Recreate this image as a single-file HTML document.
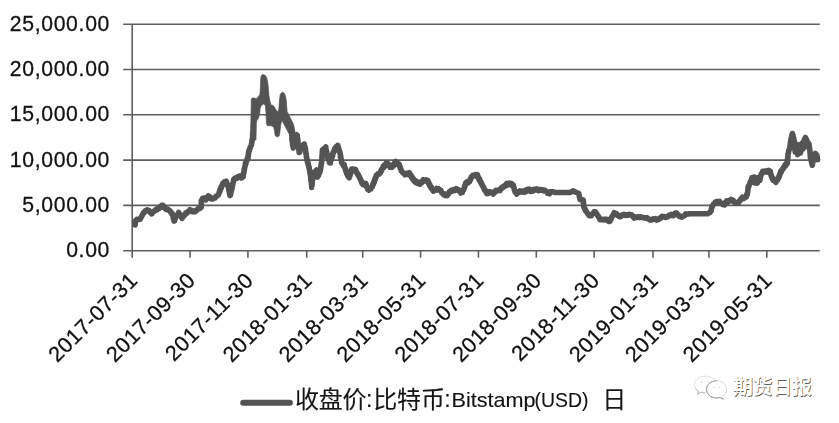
<!DOCTYPE html>
<html lang="zh">
<head>
<meta charset="utf-8">
<title>收盘价:比特币:Bitstamp(USD) 日</title>
<style>
html,body{margin:0;padding:0;background:#fff;}
body{width:839px;height:423px;overflow:hidden;font-family:"Liberation Sans",sans-serif;}
svg{display:block;}
text{font-family:"Liberation Sans",sans-serif;fill:#111;stroke:#111;stroke-width:0.28px;}
.lg text{stroke-width:0.12px;}
</style>
</head>
<body>
<svg width="839" height="423" viewBox="0 0 839 423">
<rect width="839" height="423" fill="#fff"/>
<defs><filter id="g" x="0" y="0" width="100%" height="100%" filterUnits="userSpaceOnUse"><feColorMatrix type="saturate" values="0"/></filter></defs>
<g stroke="#5e5e5e" stroke-width="1.6" fill="none">
<line x1="123.2" y1="24.2" x2="819.8" y2="24.2"/>
<line x1="123.2" y1="69.5" x2="819.8" y2="69.5"/>
<line x1="123.2" y1="114.8" x2="819.8" y2="114.8"/>
<line x1="123.2" y1="160.1" x2="819.8" y2="160.1"/>
<line x1="123.2" y1="205.4" x2="819.8" y2="205.4"/>
<line x1="123.2" y1="250.7" x2="819.8" y2="250.7"/>
<line x1="132.2" y1="24.2" x2="132.2" y2="257.7"/>
<line x1="190.06" y1="250.7" x2="190.06" y2="257.7"/>
<line x1="247.93" y1="250.7" x2="247.93" y2="257.7"/>
<line x1="306.74" y1="250.7" x2="306.74" y2="257.7"/>
<line x1="362.70" y1="250.7" x2="362.70" y2="257.7"/>
<line x1="420.57" y1="250.7" x2="420.57" y2="257.7"/>
<line x1="478.43" y1="250.7" x2="478.43" y2="257.7"/>
<line x1="536.30" y1="250.7" x2="536.30" y2="257.7"/>
<line x1="594.16" y1="250.7" x2="594.16" y2="257.7"/>
<line x1="652.97" y1="250.7" x2="652.97" y2="257.7"/>
<line x1="708.94" y1="250.7" x2="708.94" y2="257.7"/>
<line x1="766.80" y1="250.7" x2="766.80" y2="257.7"/>
</g>
<g font-size="21.2" text-anchor="end" letter-spacing="0.68" filter="url(#g)">
<text x="110.1" y="30.8">25,000.00</text>
<text x="110.1" y="76.1">20,000.00</text>
<text x="110.1" y="121.4">15,000.00</text>
<text x="110.1" y="166.7">10,000.00</text>
<text x="110.1" y="212.0">5,000.00</text>
<text x="110.1" y="257.3">0.00</text>
</g>
<g font-size="21.6" text-anchor="end" letter-spacing="0.5" filter="url(#g)">
<text transform="translate(138.80 281.70) rotate(-45)" x="0" y="0">2017-07-31</text>
<text transform="translate(196.66 281.70) rotate(-45)" x="0" y="0">2017-09-30</text>
<text transform="translate(254.53 281.70) rotate(-45)" x="0" y="0">2017-11-30</text>
<text transform="translate(313.34 281.70) rotate(-45)" x="0" y="0">2018-01-31</text>
<text transform="translate(369.30 281.70) rotate(-45)" x="0" y="0">2018-03-31</text>
<text transform="translate(427.17 281.70) rotate(-45)" x="0" y="0">2018-05-31</text>
<text transform="translate(485.03 281.70) rotate(-45)" x="0" y="0">2018-07-31</text>
<text transform="translate(542.90 281.70) rotate(-45)" x="0" y="0">2018-09-30</text>
<text transform="translate(600.76 281.70) rotate(-45)" x="0" y="0">2018-11-30</text>
<text transform="translate(659.57 281.70) rotate(-45)" x="0" y="0">2019-01-31</text>
<text transform="translate(715.54 281.70) rotate(-45)" x="0" y="0">2019-03-31</text>
<text transform="translate(773.40 281.70) rotate(-45)" x="0" y="0">2019-05-31</text>
</g>
<path d="M135.1 225.0 L135.2 224.1 L135.2 222.0 L135.3 221.2 L136.9 219.4 L138.0 219.8 L139.2 218.9 L140.3 219.1 L140.9 217.4 L141.5 216.9 L142.1 215.2 L142.7 214.6 L143.3 212.9 L144.1 212.9 L145.0 211.0 L145.8 210.6 L147.1 209.8 L148.3 211.0 L149.2 210.7 L150.0 212.4 L150.8 212.2 L151.7 213.9 L152.5 212.3 L153.3 212.3 L154.2 210.9 L155.0 210.6 L156.1 209.4 L157.2 209.8 L158.3 208.4 L159.2 208.5 L160.1 206.7 L161.0 206.9 L161.9 205.2 L162.8 205.3 L163.5 206.0 L164.3 207.8 L165.0 208.2 L166.2 209.5 L167.5 209.0 L168.7 210.2 L169.5 210.2 L170.2 211.8 L171.0 211.8 L171.7 213.8 L172.5 213.9 L172.8 215.9 L173.1 216.3 L173.3 218.5 L173.6 218.7 L173.9 220.7 L174.2 221.1 L174.6 220.7 L175.0 218.8 L175.4 218.5 L175.8 216.4 L176.5 216.2 L177.2 214.6 L178.0 214.4 L178.7 212.5 L179.4 214.5 L180.0 214.4 L180.7 216.3 L181.3 216.5 L182.0 218.4 L182.8 216.6 L183.5 216.5 L184.3 214.6 L185.0 214.9 L185.8 212.9 L186.9 213.1 L187.9 211.6 L188.9 211.6 L190.0 209.8 L191.1 211.4 L192.1 210.6 L193.1 211.9 L194.2 211.6 L195.2 211.7 L196.2 210.1 L197.3 210.0 L198.3 208.4 L199.8 208.4 L201.3 207.3 L201.3 207.0 L201.3 205.0 L201.3 204.5 L201.3 202.6 L201.3 202.6 L201.3 200.5 L202.0 200.3 L202.6 198.4 L203.3 198.7 L204.6 197.9 L205.8 199.9 L206.6 197.8 L207.5 197.7 L208.3 195.8 L209.2 197.8 L210.0 197.0 L210.8 198.8 L211.7 198.9 L212.8 199.0 L213.9 197.7 L215.0 198.0 L216.1 196.1 L217.2 196.2 L218.3 194.7 L218.7 194.4 L219.1 192.3 L219.6 192.2 L220.0 189.7 L220.4 190.1 L220.8 187.7 L221.3 188.0 L221.8 185.6 L222.3 185.6 L222.8 183.4 L223.3 184.1 L224.3 181.9 L225.3 183.0 L226.3 181.2 L226.8 183.5 L227.3 183.9 L227.8 186.1 L228.3 186.4 L228.5 188.1 L228.7 188.6 L228.9 190.5 L229.2 190.8 L229.4 192.7 L229.6 193.3 L229.8 195.0 L230.0 195.5 L230.3 195.2 L230.6 193.4 L230.9 193.4 L231.1 190.9 L231.4 190.8 L231.7 189.0 L232.0 188.8 L232.2 186.7 L232.4 186.4 L232.6 184.1 L232.8 184.7 L233.1 182.0 L233.3 182.1 L233.5 180.0 L233.7 179.6 L235.2 178.1 L236.7 178.5 L237.8 176.6 L238.9 177.3 L240.0 176.0 L241.5 177.9 L243.0 176.8 L243.2 176.7 L243.4 174.3 L243.6 174.1 L243.8 171.8 L244.0 172.3 L244.2 169.0 L244.4 169.8 L244.6 167.3 L244.8 167.4 L245.1 165.2 L245.3 165.5 L245.5 162.7 L246.0 163.3 L246.5 160.5 L247.0 160.4 L247.5 157.7 L248.0 158.6 L248.1 155.3 L248.3 156.2 L248.4 153.0 L248.6 153.8 L248.7 151.2 L249.1 151.3 L249.6 148.8 L250.0 148.7 L250.4 146.9 L250.9 146.1 L251.3 145.0 L251.6 143.8 L251.8 142.5 L252.1 141.2 L252.3 140.0 L252.6 138.8 L252.8 137.5 L252.9 136.0 L253.0 134.5M291.3 127.5 L291.5 128.0 L291.6 129.2 L291.6 130.4 L291.6 131.6 L291.7 132.8 L291.8 134.0 L291.8 135.2 L291.9 136.4 L291.9 137.6 L291.9 138.8 L292.0 140.0 L292.2 141.1 L292.4 142.3 L292.6 143.4 L292.7 144.6 L292.9 145.7 L293.1 146.9 L293.3 148.0 L293.5 146.9 L293.8 145.7 L294.0 144.6 L294.3 143.4 L294.5 142.3 L294.8 141.1 L295.0 140.0 L295.5 138.8 L296.0 137.5 L296.5 135.7 L297.0 135.6 L297.2 135.3 L297.3 138.4 L297.5 137.8 L297.7 140.8 L297.8 139.7 L298.0 143.1 L298.1 142.5 L298.3 144.9 L298.4 145.0 L298.5 147.2 L298.7 147.3 L298.8 149.8 L298.9 149.1 L299.1 152.4 L299.2 151.8 L299.6 152.2 L300.1 149.3 L300.6 149.5 L301.0 147.1 L301.8 148.3 L302.6 145.4 L303.4 146.5 L304.2 144.0 L304.5 146.5 L304.9 146.4 L305.2 149.3 L305.5 149.0 L305.7 152.3 L305.8 151.7 L306.0 154.2 L306.2 153.6 L306.4 156.9 L306.5 156.6 L306.7 158.7 L307.0 158.9 L307.3 161.6 L307.5 160.6 L307.8 163.2 L308.1 162.9 L308.4 166.1 L308.6 165.2 L308.9 167.8 L309.2 167.6 L309.4 169.8 L309.6 170.2 L309.8 172.6 L310.0 171.9 L310.2 174.5 L310.4 173.9 L310.6 176.6 L310.7 176.2 L310.8 179.1 L310.9 178.9 L311.0 180.9 L311.1 181.0 L311.3 183.0 L311.4 183.0 L311.5 185.2 L311.6 185.4 L311.7 187.4 L311.8 185.0 L312.0 185.2 L312.1 183.0 L312.2 183.1 L312.4 180.4 L312.5 180.7 L312.6 178.1 L312.8 178.5 L312.9 176.1 L313.0 176.3 L313.2 174.1 L313.3 173.9 L314.4 172.0 L315.6 172.0 L316.7 169.9 L316.9 172.4 L317.0 172.5 L317.2 175.2 L317.3 174.8 L317.5 177.2 L318.0 175.0 L318.5 175.4 L319.0 172.8 L319.5 173.1 L320.0 171.0 L320.2 171.1 L320.4 168.9 L320.6 169.3 L320.8 166.5 L320.9 166.9 L321.1 164.1 L321.3 165.0 L321.5 162.1 L321.7 162.5 L321.8 159.8 L321.9 160.1 L321.9 157.3 L322.0 157.7 L322.1 155.1 L322.2 155.4 L322.3 152.4 L322.3 153.2 L322.4 150.1 L322.5 151.1 L323.6 148.8 L324.7 149.5 L325.8 146.9 L326.0 150.1 L326.2 149.7 L326.4 151.7 L326.6 151.6 L326.9 153.8 L327.1 154.0 L327.3 156.0 L327.5 155.8 L327.9 158.7 L328.3 157.7 L328.8 160.3 L329.2 160.0 L329.6 162.8 L330.0 162.5 L330.4 162.9 L330.7 159.6 L331.1 160.1 L331.4 157.3 L331.8 158.0 L332.1 155.4 L332.5 156.1 L332.9 152.9 L333.3 153.2 L333.8 151.0 L334.2 151.3 L334.6 148.8 L335.0 148.8 L335.9 146.9 L336.9 147.6 L337.8 145.4 L338.1 147.7 L338.4 147.2 L338.7 149.4 L339.1 149.5 L339.4 152.0 L339.7 151.5 L340.0 153.7 L340.2 153.3 L340.4 156.6 L340.6 155.6 L340.9 158.3 L341.1 158.5 L341.3 160.6 L341.5 160.4 L341.7 163.1 L342.5 163.2 L343.4 165.4 L344.2 164.8 L344.6 167.8 L344.9 167.4 L345.3 169.4 L345.6 169.1 L346.0 171.9 L346.3 171.4 L346.7 173.7 L347.3 174.0 L347.9 176.2 L348.6 175.8 L349.2 177.8 L349.6 175.5 L349.9 176.1 L350.3 173.4 L350.6 173.6 L351.0 171.2 L351.3 171.4 L351.7 169.0 L352.8 170.6 L353.9 169.2 L355.0 170.4 L355.7 169.8 L356.3 172.3 L357.0 172.5 L357.6 174.6 L358.3 174.5 L358.8 176.4 L359.3 176.6 L359.8 178.3 L360.3 178.6 L360.8 180.5 L361.3 180.5 L361.8 182.8 L362.3 182.5 L362.8 184.6 L363.3 184.6 L364.6 184.9 L365.8 183.4 L366.2 185.2 L366.5 185.5 L366.9 187.6 L367.3 187.3 L367.6 189.3 L368.0 189.4 L368.9 190.2 L369.9 188.4 L370.8 188.9 L371.7 187.0 L372.2 186.9 L372.7 184.4 L373.2 184.6 L373.7 182.2 L374.2 182.4 L374.6 179.6 L375.0 180.0 L375.4 177.5 L375.9 178.0 L376.3 175.4 L376.7 175.6 L377.8 173.9 L378.9 174.2 L380.0 172.9 L380.5 172.7 L381.0 170.4 L381.5 170.8 L382.0 168.9 L382.5 168.7 L383.2 166.4 L383.9 167.5 L384.6 164.8 L385.3 165.3 L386.0 163.4 L386.7 163.6 L387.5 163.2 L388.4 165.3 L389.2 165.1 L390.0 167.2 L391.1 165.3 L392.2 167.2 L393.3 165.0 L393.9 165.4 L394.6 162.8 L395.2 163.5 L395.8 161.4 L396.6 163.1 L397.5 162.9 L398.4 165.0 L399.2 164.3 L399.6 166.6 L400.0 166.5 L400.4 168.7 L400.9 168.9 L401.3 171.0 L401.7 171.1 L402.8 172.9 L403.9 173.0 L405.0 174.7 L406.4 173.4 L407.8 174.3 L409.2 172.6 L409.9 175.1 L410.5 174.5 L411.2 177.1 L411.8 176.4 L412.5 178.9 L413.3 178.6 L414.1 181.0 L415.0 180.5 L415.8 182.5 L416.9 181.8 L418.1 183.7 L419.2 183.4 L420.1 184.2 L421.0 181.8 L422.1 182.3 L423.3 179.7 L424.7 180.9 L426.1 179.9 L427.5 181.1 L428.0 180.7 L428.5 183.4 L429.0 182.9 L429.5 185.4 L430.0 185.0 L430.7 187.5 L431.3 187.1 L432.0 189.2 L432.6 189.5 L433.3 191.1 L434.4 189.8 L435.6 190.1 L436.7 188.4 L437.8 190.0 L438.9 188.9 L440.0 190.3 L440.8 190.2 L441.7 192.7 L442.5 193.0 L443.6 194.6 L444.6 193.9 L445.6 195.7 L446.7 195.2 L447.4 195.5 L448.0 193.7 L448.7 193.8 L449.3 191.8 L450.0 191.6 L451.1 190.4 L452.2 191.1 L453.3 189.6 L454.7 190.5 L456.1 188.6 L457.5 189.8 L458.3 189.5 L459.2 191.3 L460.0 190.8 L460.9 193.0 L461.7 192.4 L462.3 192.5 L462.9 190.3 L463.6 189.8 L464.2 187.9 L464.5 187.9 L464.8 185.5 L465.2 185.5 L465.5 183.4 L465.8 182.8 L466.9 181.8 L468.1 182.7 L469.2 181.0 L469.7 181.4 L470.2 179.2 L470.7 179.4 L471.2 177.1 L471.7 177.3 L472.9 175.3 L474.2 175.6 L475.3 174.6 L476.4 176.4 L477.5 174.8 L478.0 177.1 L478.5 177.2 L479.0 179.7 L479.5 178.8 L480.0 181.4 L480.5 181.3 L481.0 183.2 L481.5 182.9 L482.0 185.2 L482.5 185.2 L483.1 187.2 L483.8 187.3 L484.4 189.8 L485.0 189.7 L485.6 191.7 L486.2 191.3 L486.9 193.6 L487.5 193.0 L488.6 193.4 L489.7 191.6 L490.8 192.3 L492.1 192.4 L493.3 194.0 L494.1 192.2 L495.0 192.3 L495.8 190.4 L497.2 190.9 L498.6 189.8 L500.0 190.5 L500.8 188.4 L501.6 188.6 L502.5 186.8 L503.3 187.5 L504.4 185.5 L505.6 185.9 L506.7 183.5 L508.1 184.8 L509.4 183.1 L510.8 183.8 L511.6 183.6 L512.5 185.9 L513.3 185.1 L513.6 187.5 L514.0 187.6 L514.3 189.8 L514.7 190.2 L515.0 192.0 L515.9 191.9 L516.7 194.1 L517.8 192.1 L518.9 192.5 L520.0 190.9 L521.4 192.0 L522.8 191.2 L524.2 192.2 L525.2 190.4 L526.2 191.5 L527.3 189.4 L528.3 190.4 L529.4 189.2 L530.6 191.3 L531.7 190.2 L532.8 191.0 L533.9 189.4 L535.0 189.9 L536.4 188.9 L537.8 190.5 L539.2 189.3 L540.6 190.4 L541.9 189.7 L543.3 190.8 L544.5 190.1 L545.8 191.3 L546.6 191.3 L547.5 193.2 L548.3 193.0 L549.4 193.8 L550.5 191.9 L552.0 191.9 L553.5 191.8 L555.0 192.5 L556.2 192.5 L557.5 192.5 L558.8 192.5 L560.0 192.5 L561.2 192.5 L562.5 192.5 L563.8 192.5 L565.0 192.5 L566.2 192.5 L567.5 192.5 L568.8 192.5 L570.0 192.5 L571.0 191.9 L572.0 191.4 L573.0 190.8 L574.4 191.5 L575.8 192.2 L577.2 192.8 L578.7 193.3 L579.0 194.5 L579.2 195.2 L579.5 197.4 L579.7 197.6 L580.0 199.5 L581.1 199.4 L582.2 200.6 L583.3 200.1 L583.4 202.5 L583.5 202.8 L583.6 205.0 L583.7 204.8 L583.8 207.1 L584.3 207.4 L584.8 209.1 L585.3 209.5 L585.8 211.2 L586.6 211.7 L587.5 213.4 L588.3 213.9 L589.1 215.7 L590.0 215.7 L591.2 215.8 L592.5 213.8 L593.2 213.6 L594.0 211.8 L594.7 211.7 L595.4 211.9 L596.1 213.4 L596.8 213.8 L597.5 215.6 L598.1 215.8 L598.8 217.5 L599.4 217.7 L600.0 219.7 L601.1 219.1 L602.2 219.8 L603.3 219.4 L604.4 219.9 L605.6 219.0 L606.7 219.8 L607.7 219.5 L608.7 221.4 L609.7 221.5 L610.2 220.9 L610.6 219.2 L611.1 219.3 L611.5 217.3 L612.0 217.1 L612.7 215.4 L613.5 214.8 L614.2 212.7 L615.3 214.3 L616.4 213.7 L617.5 215.3 L618.3 215.2 L619.2 216.5 L620.0 216.7 L620.8 216.7 L621.7 215.0 L622.5 215.3 L623.9 214.3 L625.3 215.4 L626.7 214.5 L628.1 215.3 L629.4 214.4 L630.8 214.9 L631.6 214.9 L632.5 216.4 L633.4 216.2 L634.2 218.0 L635.6 217.0 L636.9 217.4 L638.3 216.7 L639.7 217.6 L641.1 216.8 L642.5 217.7 L643.9 217.5 L645.3 218.2 L646.7 217.6 L647.7 218.8 L648.8 218.7 L649.8 219.9 L650.8 219.8 L651.9 219.9 L653.1 218.8 L654.2 219.3 L655.3 218.7 L656.4 220.1 L657.5 219.6 L658.6 219.4 L659.7 218.0 L660.8 218.1 L662.0 216.4 L663.3 216.6 L664.4 216.5 L665.6 217.5 L666.7 217.0 L667.8 216.9 L668.9 215.3 L670.0 215.2 L671.1 214.5 L672.2 215.7 L673.3 215.6 L674.1 215.0 L675.0 213.2 L675.8 213.0 L676.6 213.1 L677.5 214.9 L678.3 214.8 L679.4 216.5 L680.5 216.5 L681.9 217.2 L683.3 216.0 L684.5 215.8 L685.8 213.9 L687.2 214.1 L688.6 213.9 L690.0 213.8 L691.1 213.8 L692.2 213.8 L693.4 213.8 L694.5 213.8 L695.6 213.8 L696.7 213.8 L698.0 213.8 L699.3 213.8 L700.7 213.8 L702.0 213.8 L703.3 213.8 L704.7 213.8 L706.1 213.8 L707.5 213.8 L708.6 213.1 L709.7 212.7 L710.8 211.1 L711.1 210.8 L711.4 208.5 L711.7 208.4 L712.0 206.4 L712.7 205.9 L713.5 204.0 L714.2 203.9 L715.2 202.1 L716.2 202.6 L717.3 201.4 L718.3 201.6 L719.5 201.4 L720.8 203.3 L721.8 203.4 L722.7 204.6 L723.7 204.6 L724.5 204.9 L725.2 202.7 L726.0 203.1 L726.7 200.9 L727.8 202.1 L728.9 200.7 L730.0 201.1 L731.2 199.5 L732.5 200.3 L733.3 200.4 L734.2 202.2 L735.0 202.1 L736.5 203.2 L738.0 202.6 L738.8 202.3 L739.5 200.8 L740.3 200.4 L741.0 198.7 L741.8 199.1 L742.5 197.2 L744.1 198.3 L745.8 197.1 L746.2 196.9 L746.6 194.7 L747.1 195.1 L747.5 192.8 L747.6 192.5 L747.8 190.6 L747.9 190.5 L748.0 188.1 L748.2 188.2 L748.3 186.2 L748.8 186.6 L749.3 184.4 L749.8 184.3 L750.3 181.9 L750.8 182.5 L751.2 180.2 L751.5 179.7 L751.9 177.8 L752.3 177.9 L752.5 177.6 L752.7 180.0 L752.8 179.4 L753.0 181.9 L753.2 182.0 L753.4 182.3 L753.6 179.5 L753.8 179.6 L754.0 177.1 L754.2 177.3 L754.4 177.6 L754.6 179.6 L754.8 179.7 L755.0 182.7 L755.2 182.3 L755.4 182.8 L755.5 180.4 L755.7 180.0 L755.8 177.8 L756.0 178.3 L756.2 177.6 L756.4 180.3 L756.5 180.5 L756.7 182.8 L756.9 182.8 L757.2 183.1 L757.5 180.5 L757.7 180.6 L758.0 177.7 L758.9 180.5 L759.7 180.0 L759.9 180.3 L760.1 178.0 L760.4 177.8 L760.6 175.6 L760.8 175.9 L761.4 173.7 L762.0 173.6 L762.7 171.4 L763.3 171.8 L764.4 171.1 L765.6 171.9 L766.7 171.0 L767.8 172.1 L768.9 170.4 L770.0 172.3 L770.3 171.4 L770.6 174.1 L771.0 174.3 L771.3 176.2 L771.8 176.2 L772.3 178.7 L772.8 178.3 L773.3 180.5 L774.5 180.3 L775.8 182.4 L776.6 179.8 L777.5 180.2 L778.3 177.4 L778.7 178.0 L779.1 175.7 L779.5 175.9 L780.0 173.4 L780.4 173.5 L780.8 171.1 L781.5 171.6 L782.2 169.4 L782.8 169.4 L783.5 167.4 L784.2 167.4 L785.0 164.9 L785.8 165.5 L786.5 163.0 L787.3 163.2 L787.4 160.1 L787.5 160.8 L787.6 158.2 L787.8 158.5 L787.9 155.4 L788.0 156.2 L788.1 153.4 L788.4 153.3 L788.8 150.3 L789.1 150.1 L789.5 148.8 L789.8 147.6 L789.9 146.5 L790.1 145.4 L790.2 144.3 L790.4 143.2 L790.5 142.1 L790.7 141.0 L790.9 139.9 L791.0 138.8 L791.4 137.5 L791.7 136.2 L792.0 134.8 L792.4 133.5 L792.7 134.6 L792.9 135.6 L793.2 136.7 L793.5 137.8 L793.8 138.9 L794.0 139.9 L794.3 141.0 L794.4 142.1 L794.5 143.2 L794.6 144.3 L794.7 145.4 L794.8 146.5 L794.8 147.6 L794.9 148.7 L795.0 149.8 L795.1 150.9 L795.2 152.0 L795.3 150.9 L795.5 149.7 L795.6 148.6 L795.8 147.4 L795.9 146.3 L796.1 145.1 L796.2 144.0 L796.4 145.2 L796.5 146.4 L796.7 147.5 L796.8 148.7 L797.0 149.9 L797.1 151.1 L797.3 152.2 L797.4 153.4 L797.6 154.6 L797.8 153.4 L798.0 152.2 L798.1 151.0 L798.3 149.8 L798.5 148.6 L798.6 147.4 L798.8 146.2 L799.0 145.0 L799.2 146.1 L799.4 147.3 L799.6 148.4 L799.8 149.6 L800.0 150.7 L800.2 151.9 L800.4 153.0 L800.6 151.8 L800.8 150.6 L800.9 149.4 L801.1 148.2 L801.3 147.1 L801.4 145.9 L801.6 144.7 L801.8 143.5 L802.0 144.6 L802.3 145.7 L802.5 146.8 L802.8 147.9 L803.0 149.0 L803.1 147.8 L803.3 146.6 L803.4 145.4 L803.6 144.1 L803.7 142.9 L803.9 141.7 L804.0 140.5 L804.5 139.5 L804.9 138.4 L805.4 137.4 L805.9 138.4 L806.4 139.5 L806.9 140.5 L807.1 141.8 L807.3 143.1 L807.6 144.4 L807.8 145.7 L808.0 147.0 L808.3 145.8 L808.5 144.7 L808.8 143.5 L809.0 144.8 L809.2 146.1 L809.4 147.4 L809.6 148.7 L809.8 150.0 L809.9 151.1 L810.0 152.3 L810.1 153.4 L810.2 154.6 L810.3 155.7 L810.4 156.9 L810.5 158.0 L810.8 159.2 L811.1 160.4 L811.4 161.6 L811.7 162.8 L812.0 164.0 L812.3 165.2 L812.5 164.0 L812.7 162.8 L812.9 161.6 L813.1 160.4 L813.3 159.2 L813.5 158.0 L814.0 156.8 L814.4 155.7 L814.8 154.5 L815.3 153.3 L816.1 154.4 L816.9 155.5 L817.1 156.9 L817.4 158.4 L817.6 159.8" fill="none" stroke="#545454" stroke-width="5.6" stroke-linejoin="round" stroke-linecap="round"/>
<path d="M250.0 140.0 L250.8 121.7 L251.2 105.0 L251.2 99.5 L251.7 98.4 L253.1 97.8 L255.2 98.2 L256.4 98.8 L258.5 96.2 L259.8 94.5 L260.3 88.7 L260.6 80.3 L261.0 76.2 L262.7 74.3 L265.2 75.3 L266.8 77.8 L267.8 82.8 L268.5 88.7 L268.9 95.3 L269.8 100.3 L271.0 104.9 L272.7 105.3 L274.3 106.7 L276.0 110.0 L278.1 111.7 L278.9 108.3 L279.3 101.2 L280.2 94.5 L281.4 92.8 L282.7 92.2 L284.3 93.2 L285.6 96.2 L286.4 101.2 L286.8 107.0 L287.2 111.7 L289.3 115.8 L291.4 120.0 L293.5 124.2 L294.3 128.3 L295.2 132.5 L297.2 132.1 L299.3 134.2 L299.8 140.0 L292.3 140.0 L289.3 134.2 L285.2 126.7 L281.8 120.0 L280.6 125.8 L280.2 130.0 L279.3 135.8 L277.2 137.1 L275.2 135.8 L274.3 130.0 L273.5 126.7 L271.0 125.8 L267.2 125.7 L266.4 123.3 L266.0 113.3 L265.2 105.0 L263.1 104.1 L261.5 105.5 L260.2 108.0 L259.8 113.3 L258.5 118.3 L256.8 120.8 L256.4 124.2 L256.0 140.0Z" fill="#545454" stroke="#545454" stroke-width="0.6" stroke-linejoin="round"/>
<line x1="243.2" y1="402.75" x2="289.9" y2="402.75" stroke="#545454" stroke-width="6.0" stroke-linecap="round"/>
<g aria-label="收盘价:比特币:Bitstamp(USD) 日" filter="url(#g)" class="lg">
<text x="294.9 318.8 342.6" y="408" font-size="24" style="font-family:'Liberation Sans','Noto Sans CJK SC',sans-serif;fill:#161616;stroke:#161616;">收盘价</text>
<text x="373.2 397.0 421.0" y="408" font-size="24" style="font-family:'Liberation Sans','Noto Sans CJK SC',sans-serif;fill:#161616;stroke:#161616;">比特币</text>
<text x="602.2" y="407.7" font-size="24" style="font-family:'Liberation Sans','Noto Sans CJK SC',sans-serif;fill:#161616;stroke:#161616;">日</text>
<text x="366.0" y="406.6" font-size="23">:</text>
<text x="444.3" y="406.6" font-size="23">:</text>
<text x="451.6" y="406.9" font-size="21" textLength="84.0" lengthAdjust="spacingAndGlyphs">Bitstamp</text>
<text x="534.6" y="406.9" font-size="21" textLength="54.0" lengthAdjust="spacingAndGlyphs">(USD)</text>
</g>
<defs><filter id="b" x="-10%" y="-10%" width="120%" height="120%"><feGaussianBlur stdDeviation="0.4"/></filter></defs>
<g aria-label="期货日报">
<path d="M705.3 376.2c-6 0-10.8 3.8-10.8 8.4 0 2.6 1.5 4.9 3.9 6.5l-1 3 3.5-1.8c1.4.4 2.8.7 4.400.7 6 0 10.800-3.800 10.800-8.400s-4.800-8.400-10.800-8.400z" fill="#fff" stroke="#d6d6d6" stroke-width="0.8"/>
<path d="M695.3 388.300c.6 1.100 1.700 2.100 3.100 2.800l-1 3 3.500-1.800c1.400.4 2.800.7 4.400.7" fill="none" stroke="#b0b0b0" stroke-width="0.8"/>
<path d="M716.6 380.8c-5.600 0-10.100 3.800-10.100 8.600s4.500 8.600 10.100 8.600c1.300 0 2.500-.200 3.600-.600l3.200 1.700-.900-2.800c2.500-1.600 4.200-4.100 4.200-6.900 0-4.800-4.500-8.600-10.100-8.600z" fill="#fff" stroke="#fff" stroke-width="2.4"/>
<path d="M716.6 380.8c-5.600 0-10.100 3.800-10.100 8.600s4.500 8.600 10.100 8.600c1.300 0 2.500-.200 3.600-.600l3.200 1.700-.900-2.800c2.500-1.600 4.200-4.100 4.200-6.900 0-4.800-4.500-8.600-10.100-8.600z" fill="#fff" stroke="#d0d0d0" stroke-width="0.8"/>
<path d="M716.6 380.8c-5.600 0-10.100 3.800-10.100 8.600s4.500 8.600 10.100 8.600c1.300 0 2.500-.200 3.600-.600l3.200 1.700" fill="none" stroke="#8e8e8e" stroke-width="0.9" stroke-linecap="round"/>
<g fill="#d9d9d9"><circle cx="701.6" cy="382.3" r="0.9"/><circle cx="708.6" cy="382.3" r="0.9"/><circle cx="713.6" cy="387.3" r="0.8"/><circle cx="719.4" cy="387.3" r="0.8"/></g>
<text x="733.75 753.37 772.99 792.61" y="395.05" font-size="20" font-weight="bold" filter="url(#b)" style="font-family:'Liberation Sans','Noto Sans CJK SC',sans-serif;fill:#5c5c5c;stroke:none;">期货日报</text>
<text x="732.90 752.52 772.14 791.76" y="394.10" font-size="20" font-weight="bold" style="font-family:'Liberation Sans','Noto Sans CJK SC',sans-serif;fill:#fff;stroke:none;">期货日报</text>
</g>
</svg>
</body>
</html>
